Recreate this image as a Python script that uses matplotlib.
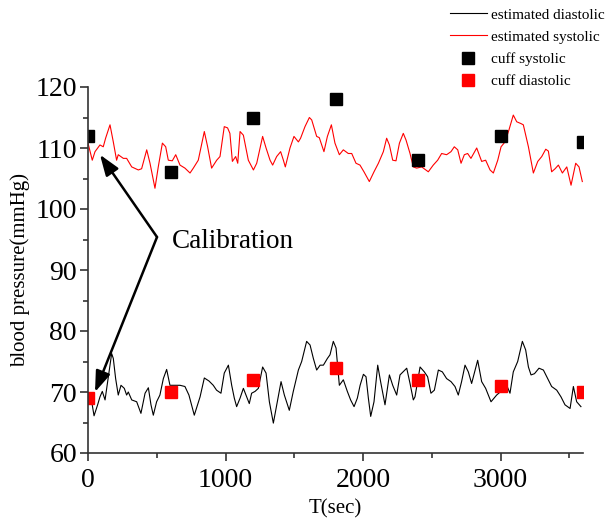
import matplotlib
matplotlib.use("Agg")
import matplotlib.pyplot as plt
from matplotlib.ticker import MultipleLocator
from matplotlib.lines import Line2D

plt.rcParams['font.family'] = ['Liberation Serif', 'DejaVu Serif']

# estimated systolic (red line)
sys_t = [0, 31, 51, 87, 111, 128, 160, 184, 208, 220, 257, 281, 318, 366, 390, 427, 451, 487, 511,
         541, 565, 584, 613, 638, 669, 705, 742, 766, 802, 846, 870, 899, 936, 960, 991, 1015, 1032,
         1050, 1074, 1089, 1106, 1130, 1166, 1203, 1227, 1270, 1295, 1324, 1343, 1372, 1401, 1421,
         1435, 1469, 1498, 1530, 1546, 1578, 1610, 1627, 1663, 1682, 1716, 1741, 1770, 1796, 1828,
         1857, 1893, 1918, 1949, 1978, 2007, 2046, 2080, 2112, 2148, 2172, 2192, 2216, 2240, 2265,
         2293, 2313, 2342, 2366, 2390, 2427, 2475, 2511, 2543, 2572, 2608, 2640, 2664, 2689, 2713,
         2737, 2761, 2785, 2827, 2863, 2892, 2924, 2948, 2980, 3004, 3033, 3062, 3093, 3118, 3149,
         3166, 3203, 3239, 3271, 3300, 3329, 3348, 3372, 3397, 3421, 3450, 3482, 3513, 3547, 3571, 3595]
sys_v = [110.8, 108.0, 109.4, 110.5, 110.2, 111.6, 113.8, 111.0, 108.0, 108.9, 108.3, 108.3, 106.9,
         106.4, 106.6, 109.7, 107.5, 103.4, 106.9, 110.8, 110.2, 108.0, 107.9, 108.9, 107.2, 106.7,
         105.9, 106.7, 108.0, 112.7, 110.2, 106.7, 108.0, 108.6, 113.5, 113.3, 112.4, 107.8, 108.6,
         107.5, 112.7, 112.1, 108.0, 106.4, 107.5, 111.9, 110.0, 108.0, 107.2, 108.6, 109.4, 108.0,
         106.9, 110.0, 111.9, 111.0, 111.6, 113.5, 115.0, 114.6, 111.9, 111.7, 109.4, 111.9, 113.8,
         110.8, 108.9, 109.7, 109.1, 109.1, 107.5, 107.2, 106.1, 104.5, 106.1, 107.5, 109.4, 111.6,
         110.5, 108.0, 107.9, 110.8, 112.4, 111.3, 109.1, 106.9, 106.7, 106.9, 106.1, 107.2, 108.0,
         109.1, 108.9, 109.4, 110.2, 109.7, 107.5, 108.9, 109.1, 108.3, 110.0, 107.8, 108.0, 106.4,
         105.9, 108.0, 110.2, 111.0, 113.0, 115.4, 114.3, 114.0, 113.8, 110.2, 105.9, 107.8, 108.6,
         109.8, 109.5, 106.1, 106.6, 107.2, 105.9, 106.9, 103.9, 107.5, 106.9, 104.5]

# estimated diastolic (black line)
dia_t = [0, 27, 44, 70, 87, 104, 124, 143, 172, 184, 201, 220, 240, 264, 281, 293, 318, 354, 385,
         415, 439, 458, 475, 499, 523, 548, 572, 596, 633, 669, 705, 734, 773, 815, 846, 880, 911,
         935, 967, 991, 1021, 1045, 1064, 1081, 1106, 1130, 1154, 1173, 1190, 1215, 1239, 1270, 1295,
         1319, 1348, 1377, 1404, 1428, 1464, 1493, 1530, 1554, 1590, 1615, 1639, 1663, 1688, 1712,
         1741, 1760, 1784, 1804, 1828, 1857, 1886, 1910, 1935, 1959, 1979, 2003, 2022, 2039, 2056,
         2080, 2107, 2128, 2160, 2192, 2216, 2245, 2269, 2318, 2342, 2366, 2378, 2415, 2446, 2470,
         2494, 2519, 2548, 2577, 2608, 2640, 2669, 2693, 2717, 2742, 2766, 2790, 2834, 2863, 2892,
         2931, 2972, 3013, 3045, 3069, 3093, 3125, 3159, 3183, 3203, 3222, 3247, 3280, 3312, 3343,
         3372, 3409, 3440, 3469, 3506, 3530, 3554, 3585]
dia_v = [69.0, 68.4, 66.1, 67.9, 69.2, 70.1, 68.7, 71.7, 76.3, 75.5, 72.2, 69.5, 71.1, 70.6, 69.5,
         70.0, 68.7, 68.4, 66.5, 69.8, 70.7, 67.9, 66.2, 68.4, 69.5, 72.2, 73.7, 71.1, 71.1, 71.1,
         70.9, 69.5, 66.2, 69.2, 72.3, 71.8, 71.1, 70.3, 69.8, 73.1, 74.4, 71.1, 69.0, 67.6, 69.0,
         70.6, 69.2, 68.1, 69.8, 70.1, 70.6, 74.1, 73.1, 68.4, 64.9, 68.4, 71.7, 69.5, 67.0, 70.1,
         73.6, 75.0, 78.3, 77.7, 75.5, 73.6, 74.4, 74.4, 75.5, 76.1, 78.3, 77.2, 71.1, 72.0, 70.1,
         68.7, 67.6, 69.0, 71.1, 72.9, 72.5, 69.0, 66.0, 68.4, 74.4, 71.7, 67.9, 72.8, 71.1, 69.5,
         72.8, 73.9, 71.4, 68.7, 69.2, 74.1, 73.3, 72.5, 69.8, 70.3, 73.6, 73.3, 72.2, 71.7, 70.9,
         69.5, 71.7, 74.4, 73.3, 71.4, 75.2, 71.7, 70.6, 68.4, 69.5, 70.3, 71.1, 69.8, 73.3, 75.0,
         78.3, 76.9, 74.1, 72.8, 73.0, 73.9, 73.6, 72.2, 70.9, 70.3, 69.2, 67.9, 67.3, 70.9, 68.4,
         67.6]

# cuff measurements
cuff_t = [0, 600, 1200, 1800, 2400, 3000, 3600]
cuff_sys = [112, 106, 115, 118, 108, 112, 111]
cuff_dia = [69, 70, 72, 74, 72, 71, 70]

fig = plt.figure(figsize=(6.07, 5.21), dpi=100)
ax = fig.add_axes([88/607, 1-453/521, (583-88)/607, (453-87)/521])

ax.plot(dia_t, dia_v, color='black', lw=0.8)
ax.plot(sys_t, sys_v, color='red', lw=0.8)
ax.plot(cuff_t, cuff_sys, ls='none', marker='s', ms=8.5, color='black', mec='black')
ax.plot(cuff_t, cuff_dia, ls='none', marker='s', ms=8.5, color='red', mec='red')

ax.set_xlim(0, 3600)
ax.set_ylim(60, 120)
ax.xaxis.set_major_locator(MultipleLocator(1000))
ax.xaxis.set_minor_locator(MultipleLocator(500))
ax.yaxis.set_major_locator(MultipleLocator(10))
ax.yaxis.set_minor_locator(MultipleLocator(5))
for s in ['top', 'right']:
    ax.spines[s].set_visible(False)
for s in ['left', 'bottom']:
    ax.spines[s].set_linewidth(1.2)
    ax.spines[s].set_color('#333333')
ax.tick_params(which='major', direction='out', length=6, width=1.2, labelsize=20, colors='#333333',
               labelcolor='black')
ax.tick_params(axis='x', which='major', pad=5)
ax.tick_params(axis='y', which='major', pad=2)
ax.tick_params(which='minor', direction='out', length=3.5, width=1.2, colors='#333333')

ax.set_xlabel('T(sec)', fontsize=15, labelpad=4)
ax.set_ylabel('blood pressure(mmHg)', fontsize=15, labelpad=4)

# Calibration annotation
ax.text(611, 94.6, 'Calibration', fontsize=19.5, va='center', ha='left')
for tip in [(87, 108.9), (51, 70.0)]:
    ax.annotate('', xy=tip, xytext=(502, 95.4),
                arrowprops=dict(arrowstyle='-|>,head_length=0.7,head_width=0.25', color='black', lw=1.8,
                                mutation_scale=18, shrinkA=0, shrinkB=0))

handles = [Line2D([], [], color='black', lw=0.8),
           Line2D([], [], color='red', lw=0.8),
           Line2D([], [], ls='none', marker='s', ms=8.5, color='black'),
           Line2D([], [], ls='none', marker='s', ms=8.5, color='red')]
labels = ['estimated diastolic', 'estimated systolic', 'cuff systolic', 'cuff diastolic']
fig.legend(handles, labels, loc='upper left', bbox_to_anchor=(450/607, 1-8/521),
           frameon=False, fontsize=11, handlelength=2.4, handletextpad=0.3,
           labelspacing=0.55, borderpad=0, borderaxespad=0)

fig.savefig('out.png', dpi=100)
